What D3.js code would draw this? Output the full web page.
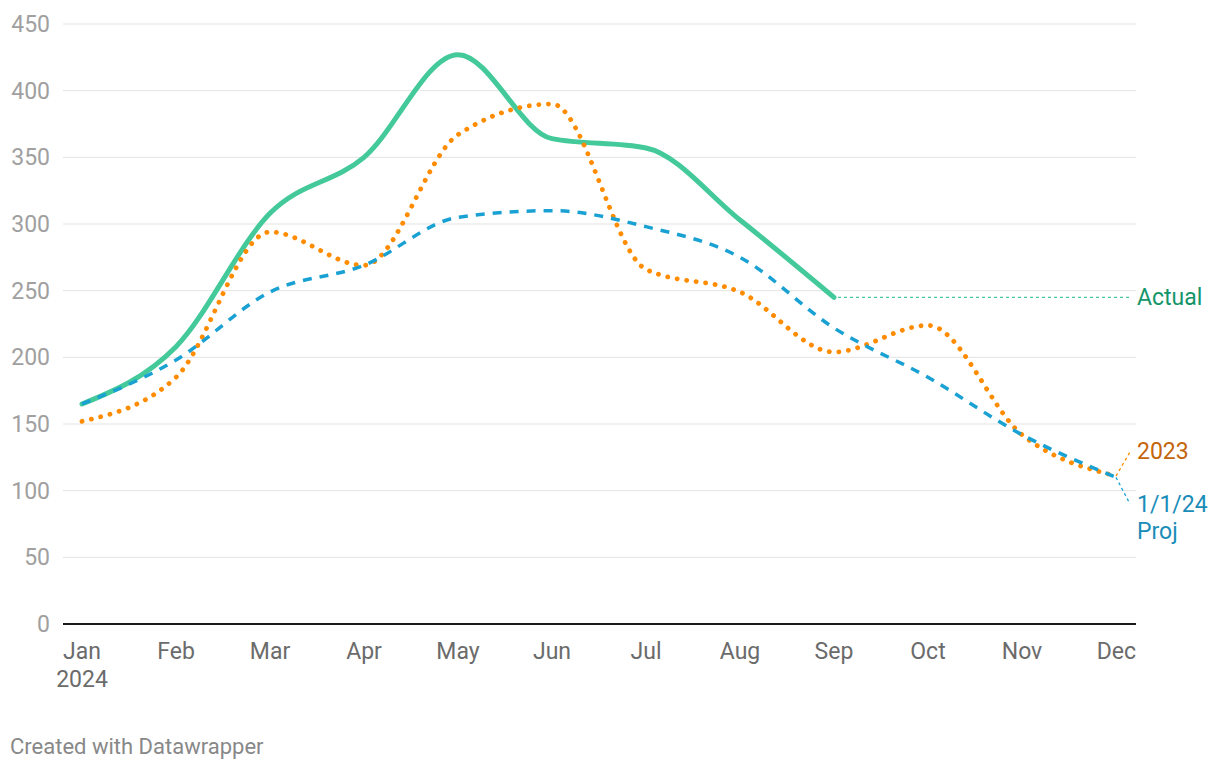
<!DOCTYPE html>
<html>
<head>
<meta charset="utf-8">
<script src="https://cdn.jsdelivr.net/npm/d3@7"></script>
<style>
  html, body { margin: 0; padding: 0; background: #fff; }
  svg { display: block; font-family: Roboto, "Noto Sans", sans-serif; }
</style>
</head>
<body>
<svg id="chart" width="1220" height="770"></svg>
<script>
const months = ["Jan", "Feb", "Mar", "Apr", "May", "Jun", "Jul", "Aug", "Sep", "Oct", "Nov", "Dec"];
const actual = [165, 208, 308, 350, 427, 364, 357, 303, 245];
const y2023 = [152, 185, 294, 269, 367, 390, 266, 249, 204, 224, 142, 111];
const proj = [165, 198, 249, 269, 305, 310, 298, 275, 222, 185, 142, 110];
const yTicks = [0, 50, 100, 150, 200, 250, 300, 350, 400, 450];

const svg = d3.select("#chart");
const gridLeft = 63, gridRight = 1136;
const FS = 23;
const x = d3.scalePoint().domain(months).range([82, 1116]);
const y = d3.scaleLinear().domain([0, 450]).range([624, 24]);

// gridlines
svg.append("g").selectAll("line").data(yTicks.filter(d => d > 0)).join("line")
  .attr("x1", gridLeft).attr("x2", gridRight)
  .attr("y1", d => y(d)).attr("y2", d => y(d))
  .attr("stroke", "#e3e3e3").attr("stroke-width", 1);

// y labels
svg.append("g").selectAll("text").data(yTicks).join("text")
  .attr("x", 50).attr("y", d => y(d) + 8)
  .attr("text-anchor", "end")
  .attr("font-size", FS).attr("fill", "#a0a0a0")
  .text(d => d);

// baseline
svg.append("line").attr("x1", gridLeft).attr("x2", gridRight)
  .attr("y1", y(0)).attr("y2", y(0)).attr("stroke", "#1a1a1a").attr("stroke-width", 2);

// x labels
svg.append("g").selectAll("text").data(months).join("text")
  .attr("x", d => x(d)).attr("y", 659)
  .attr("text-anchor", (d, i) => i === months.length - 1 ? "end" : "middle")
  .attr("dx", (d, i) => i === months.length - 1 ? 20 : 0)
  .attr("font-size", FS).attr("fill", "#6b6b6b")
  .text(d => d);
svg.append("text").attr("x", x("Jan")).attr("y", 687).attr("text-anchor", "middle")
  .attr("font-size", FS).attr("fill", "#6b6b6b").text("2024");

const line = d3.line().x((d, i) => x(months[i])).y(d => y(d)).curve(d3.curveMonotoneX);

// Actual
svg.append("path").datum(actual).attr("d", line)
  .attr("fill", "none").attr("stroke", "#43c99a").attr("stroke-width", 5)
  .attr("stroke-linecap", "round").attr("stroke-linejoin", "round");
// 2023
svg.append("path").datum(y2023).attr("d", line)
  .attr("fill", "none").attr("stroke", "#ff8c00").attr("stroke-width", 4.8)
  .attr("stroke-dasharray", "0.1 9.5").attr("stroke-linecap", "round");
// proj
svg.append("path").datum(proj).attr("d", line)
  .attr("fill", "none").attr("stroke", "#1aa1d3").attr("stroke-width", 3.5)
  .attr("stroke-dasharray", "9 8").attr("stroke-linecap", "butt");

// direct labels & leader lines
const lastA = actual.length - 1;
svg.append("line").attr("x1", x(months[lastA]) + 4).attr("x2", 1130)
  .attr("y1", y(actual[lastA])).attr("y2", y(actual[lastA]))
  .attr("stroke", "#43c99a").attr("stroke-width", 1.3).attr("stroke-dasharray", "3 3");
svg.append("text").attr("x", 1137).attr("y", y(actual[lastA]) + 8)
  .attr("font-size", FS).attr("fill", "#159569").text("Actual");

const decX = x("Dec");
svg.append("line").attr("x1", decX).attr("y1", y(y2023[11]))
  .attr("x2", 1130).attr("y2", 452)
  .attr("stroke", "#ff8c00").attr("stroke-width", 1.3).attr("stroke-dasharray", "3 3");
svg.append("text").attr("x", 1137).attr("y", 459)
  .attr("font-size", FS).attr("fill", "#c4650c").text("2023");

svg.append("line").attr("x1", decX).attr("y1", y(proj[11]))
  .attr("x2", 1130).attr("y2", 504)
  .attr("stroke", "#1aa1d3").attr("stroke-width", 1.3).attr("stroke-dasharray", "3 3");
svg.append("text").attr("x", 1137).attr("y", 512)
  .attr("font-size", FS).attr("fill", "#1a8cb8").text("1/1/24");
svg.append("text").attr("x", 1137).attr("y", 539)
  .attr("font-size", FS).attr("fill", "#1a8cb8").text("Proj");

// footer
svg.append("text").attr("x", 10).attr("y", 754)
  .attr("font-size", 22).attr("fill", "#888").text("Created with Datawrapper");
</script>
</body>
</html>
